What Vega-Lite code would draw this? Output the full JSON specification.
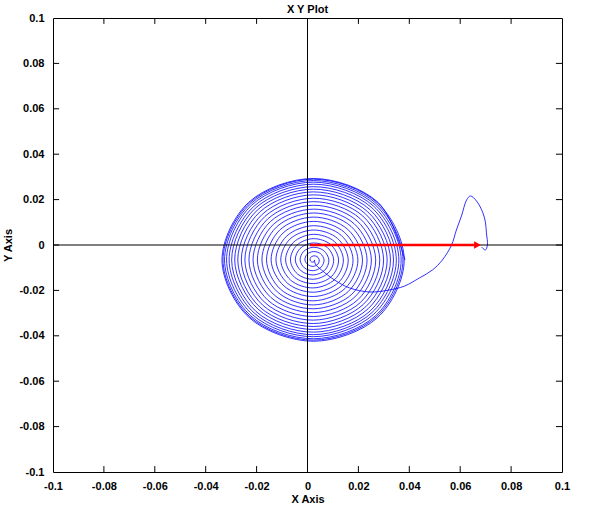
{
  "$schema": "https://vega.github.io/schema/vega-lite/v6.json",
  "width": 509,
  "height": 454,
  "autosize": "none",
  "padding": {"left": 53, "top": 18, "right": 32, "bottom": 38},
  "background": "white",
  "title": {"text": "X Y Plot", "font": "Liberation Sans", "fontSize": 11, "fontWeight": "bold", "color": "black", "offset": 4, "dy": 7},
  "config": {
    "view": {"stroke": "black", "strokeWidth": 1},
    "axis": {
      "domain": false, "grid": false, "ticks": false,
      "labelFont": "Liberation Sans", "labelFontSize": 11, "labelFontWeight": "bold", "labelColor": "black",
      "labelFlush": false, "labelOverlap": false,
      "titleFont": "Liberation Sans", "titleFontSize": 11, "titleFontWeight": "bold", "titleColor": "black"
    }
  },
  "datasets": {
    "path": [
      {"i":0,"x":0.0684,"y":-0.0009},{"i":1,"x":0.0699,"y":-0.0022},{"i":2,"x":0.0707,"y":0.0},{"i":3,"x":0.0703,"y":0.0053},
      {"i":4,"x":0.0699,"y":0.0101},{"i":5,"x":0.0688,"y":0.0145},{"i":6,"x":0.0664,"y":0.0194},{"i":7,"x":0.0640,"y":0.0216},
      {"i":8,"x":0.0625,"y":0.0198},{"i":9,"x":0.0605,"y":0.0128},{"i":10,"x":0.0585,"y":0.0066},{"i":11,"x":0.0566,"y":0.0},
      {"i":12,"x":0.0530,"y":-0.0066},{"i":13,"x":0.0491,"y":-0.0110},{"i":14,"x":0.0440,"y":-0.0145},{"i":15,"x":0.0381,"y":-0.0181},
      {"i":16,"x":0.0322,"y":-0.0198},{"i":17,"x":0.0244,"y":-0.0207},{"i":18,"x":0.0165,"y":-0.0189},{"i":19,"x":0.0106,"y":-0.0154},
      {"i":20,"x":0.0055,"y":-0.0110},{"i":21,"x":0.0031,"y":-0.0084},
      {"i":100,"x":0.0027,"y":-0.0066},{"i":101,"x":0.0028,"y":-0.0070},{"i":102,"x":0.0023,"y":-0.0075},{"i":103,"x":0.0015,"y":-0.0074},
      {"i":104,"x":0.0010,"y":-0.0066},{"i":105,"x":0.0012,"y":-0.0055},{"i":106,"x":0.0023,"y":-0.0048},{"i":107,"x":0.0038,"y":-0.0051},
      {"i":108,"x":0.0046,"y":-0.0066},{"i":109,"x":0.0041,"y":-0.0084},{"i":110,"x":0.0023,"y":-0.0094},{"i":111,"x":0.0002,"y":-0.0087},
      {"i":112,"x":-0.0010,"y":-0.0066},{"i":113,"x":-0.0002,"y":-0.0041},{"i":114,"x":0.0023,"y":-0.0029},{"i":115,"x":0.0051,"y":-0.0038},
      {"i":116,"x":0.0065,"y":-0.0066},{"i":117,"x":0.0054,"y":-0.0097},{"i":118,"x":0.0023,"y":-0.0113},{"i":119,"x":-0.0012,"y":-0.0101},
      {"i":120,"x":-0.0029,"y":-0.0066},{"i":121,"x":-0.0015,"y":-0.0028},{"i":122,"x":0.0023,"y":-0.0010},{"i":123,"x":0.0064,"y":-0.0025},
      {"i":124,"x":0.0084,"y":-0.0066},{"i":125,"x":0.0068,"y":-0.0111},{"i":126,"x":0.0023,"y":-0.0132},{"i":127,"x":-0.0025,"y":-0.0114},
      {"i":128,"x":-0.0048,"y":-0.0066},{"i":129,"x":-0.0029,"y":-0.0015},{"i":130,"x":0.0023,"y":0.0009},{"i":131,"x":0.0078,"y":-0.0011},
      {"i":132,"x":0.0103,"y":-0.0066},{"i":133,"x":0.0081,"y":-0.0124},{"i":134,"x":0.0023,"y":-0.0151},{"i":135,"x":-0.0039,"y":-0.0128},
      {"i":136,"x":-0.0067,"y":-0.0066},{"i":137,"x":-0.0042,"y":-0.0001},{"i":138,"x":0.0023,"y":0.0028},{"i":139,"x":0.0091,"y":0.0002},
      {"i":140,"x":0.0122,"y":-0.0066},{"i":141,"x":0.0095,"y":-0.0138},{"i":142,"x":0.0023,"y":-0.0170},{"i":143,"x":-0.0052,"y":-0.0141},
      {"i":144,"x":-0.0086,"y":-0.0066},{"i":145,"x":-0.0055,"y":0.0012},{"i":146,"x":0.0023,"y":0.0047},{"i":147,"x":0.0105,"y":0.0016},
      {"i":148,"x":0.0141,"y":-0.0066},{"i":149,"x":0.0108,"y":-0.0151},{"i":150,"x":0.0023,"y":-0.0189},{"i":151,"x":-0.0066,"y":-0.0155},
      {"i":152,"x":-0.0105,"y":-0.0066},{"i":153,"x":-0.0069,"y":0.0026},{"i":154,"x":0.0023,"y":0.0066},{"i":155,"x":0.0118,"y":0.0029},
      {"i":156,"x":0.0160,"y":-0.0066},{"i":157,"x":0.0122,"y":-0.0165},{"i":158,"x":0.0023,"y":-0.0208},{"i":159,"x":-0.0079,"y":-0.0168},
      {"i":160,"x":-0.0124,"y":-0.0066},{"i":161,"x":-0.0082,"y":0.0039},{"i":162,"x":0.0023,"y":0.0085},{"i":163,"x":0.0132,"y":0.0043},
      {"i":164,"x":0.0179,"y":-0.0066},{"i":165,"x":0.0135,"y":-0.0178},{"i":166,"x":0.0023,"y":-0.0227},{"i":167,"x":-0.0092,"y":-0.0181},
      {"i":168,"x":-0.0143,"y":-0.0066},{"i":169,"x":-0.0096,"y":0.0053},{"i":170,"x":0.0023,"y":0.0104},{"i":171,"x":0.0145,"y":0.0056},
      {"i":172,"x":0.0198,"y":-0.0066},{"i":173,"x":0.0148,"y":-0.0191},{"i":174,"x":0.0023,"y":-0.0246},{"i":175,"x":-0.0106,"y":-0.0195},
      {"i":176,"x":-0.0161,"y":-0.0066},{"i":177,"x":-0.0109,"y":0.0066},{"i":178,"x":0.0023,"y":0.0123},{"i":179,"x":0.0158,"y":0.0069},
      {"i":180,"x":0.0216,"y":-0.0066},{"i":181,"x":0.0161,"y":-0.0204},{"i":182,"x":0.0023,"y":-0.0264},{"i":183,"x":-0.0118,"y":-0.0207},
      {"i":184,"x":-0.0179,"y":-0.0066},{"i":185,"x":-0.0122,"y":0.0079},{"i":186,"x":0.0023,"y":0.0141},{"i":187,"x":0.0171,"y":0.0082},
      {"i":188,"x":0.0234,"y":-0.0066},{"i":189,"x":0.0174,"y":-0.0217},{"i":190,"x":0.0023,"y":-0.0281},{"i":191,"x":-0.0131,"y":-0.0220},
      {"i":192,"x":-0.0197,"y":-0.0066},{"i":193,"x":-0.0134,"y":0.0091},{"i":194,"x":0.0023,"y":0.0158},{"i":195,"x":0.0183,"y":0.0094},
      {"i":196,"x":0.0251,"y":-0.0066},{"i":197,"x":0.0186,"y":-0.0229},{"i":198,"x":0.0023,"y":-0.0298},{"i":199,"x":-0.0143,"y":-0.0232},
      {"i":200,"x":-0.0214,"y":-0.0066},{"i":201,"x":-0.0146,"y":0.0103},{"i":202,"x":0.0023,"y":0.0175},{"i":203,"x":0.0195,"y":0.0106},
      {"i":204,"x":0.0268,"y":-0.0066},{"i":205,"x":0.0198,"y":-0.0241},{"i":206,"x":0.0023,"y":-0.0315},{"i":207,"x":-0.0155,"y":-0.0244},
      {"i":208,"x":-0.0230,"y":-0.0066},{"i":209,"x":-0.0157,"y":0.0114},{"i":210,"x":0.0023,"y":0.0191},{"i":211,"x":0.0206,"y":0.0117},
      {"i":212,"x":0.0284,"y":-0.0066},{"i":213,"x":0.0209,"y":-0.0252},{"i":214,"x":0.0023,"y":-0.0331},{"i":215,"x":-0.0166,"y":-0.0255},
      {"i":216,"x":-0.0246,"y":-0.0066},{"i":217,"x":-0.0168,"y":0.0125},{"i":218,"x":0.0023,"y":0.0206},{"i":219,"x":0.0217,"y":0.0128},
      {"i":220,"x":0.0299,"y":-0.0066},{"i":221,"x":0.0219,"y":-0.0262},{"i":222,"x":0.0023,"y":-0.0346},{"i":223,"x":-0.0176,"y":-0.0265},
      {"i":224,"x":-0.0260,"y":-0.0066},{"i":225,"x":-0.0178,"y":0.0135},{"i":226,"x":0.0023,"y":0.0221},{"i":227,"x":0.0227,"y":0.0138},
      {"i":228,"x":0.0313,"y":-0.0066},{"i":229,"x":0.0229,"y":-0.0272},{"i":230,"x":0.0023,"y":-0.0359},{"i":231,"x":-0.0186,"y":-0.0275},
      {"i":232,"x":-0.0274,"y":-0.0066},{"i":233,"x":-0.0188,"y":0.0145},{"i":234,"x":0.0023,"y":0.0234},{"i":235,"x":0.0236,"y":0.0147},
      {"i":236,"x":0.0326,"y":-0.0066},{"i":237,"x":0.0238,"y":-0.0281},{"i":238,"x":0.0023,"y":-0.0372},{"i":239,"x":-0.0194,"y":-0.0283},
      {"i":240,"x":-0.0286,"y":-0.0066},{"i":241,"x":-0.0197,"y":0.0154},{"i":242,"x":0.0023,"y":0.0246},{"i":243,"x":0.0245,"y":0.0156},
      {"i":244,"x":0.0338,"y":-0.0066},{"i":245,"x":0.0247,"y":-0.0290},{"i":246,"x":0.0023,"y":-0.0384},{"i":247,"x":-0.0203,"y":-0.0292},
      {"i":248,"x":-0.0298,"y":-0.0066},{"i":249,"x":-0.0205,"y":0.0162},{"i":250,"x":0.0023,"y":0.0257},{"i":251,"x":0.0253,"y":0.0164},
      {"i":252,"x":0.0349,"y":-0.0066},{"i":253,"x":0.0254,"y":-0.0297},{"i":254,"x":0.0023,"y":-0.0395},{"i":255,"x":-0.0210,"y":-0.0299},
      {"i":256,"x":-0.0308,"y":-0.0066},{"i":257,"x":-0.0212,"y":0.0169},{"i":258,"x":0.0023,"y":0.0268},{"i":259,"x":0.0260,"y":0.0171},
      {"i":260,"x":0.0359,"y":-0.0066},{"i":261,"x":0.0261,"y":-0.0304},{"i":262,"x":0.0023,"y":-0.0404},{"i":263,"x":-0.0217,"y":-0.0306},
      {"i":264,"x":-0.0318,"y":-0.0066},{"i":265,"x":-0.0219,"y":0.0176},{"i":266,"x":0.0023,"y":0.0277},{"i":267,"x":0.0266,"y":0.0177},
      {"i":268,"x":0.0368,"y":-0.0066},{"i":269,"x":0.0268,"y":-0.0311},{"i":270,"x":0.0023,"y":-0.0413},{"i":271,"x":-0.0223,"y":-0.0312},
      {"i":272,"x":-0.0326,"y":-0.0066},{"i":273,"x":-0.0224,"y":0.0181},{"i":274,"x":0.0023,"y":0.0284},{"i":275,"x":0.0271,"y":0.0182},
      {"i":276,"x":0.0375,"y":-0.0066},{"i":277,"x":0.0272,"y":-0.0315},{"i":278,"x":0.0023,"y":-0.0419},{"i":279,"x":-0.0227,"y":-0.0316},
      {"i":280,"x":-0.0332,"y":-0.0066},{"i":281,"x":-0.0228,"y":0.0185},{"i":282,"x":0.0023,"y":0.0290},{"i":283,"x":0.0275,"y":0.0186},
      {"i":284,"x":0.0380,"y":-0.0066},{"i":285,"x":0.0276,"y":-0.0319},{"i":286,"x":0.0023,"y":-0.0424},{"i":287,"x":-0.0230,"y":-0.0319},
      {"i":288,"x":-0.0336,"y":-0.0066},{"i":289,"x":-0.0231,"y":0.0188},{"i":290,"x":0.0023,"y":0.0293},{"i":291,"x":0.0277,"y":0.0188},
      {"i":292,"x":0.0383,"y":-0.0066}
    ],
    "arrow": [{"x1": 0.001, "x2": 0.0664, "y": 0, "tip": 0.0668}],
    "origin": [{"x": 0, "y": 0}],
    "tv": [{"v":-0.08},{"v":-0.06},{"v":-0.04},{"v":-0.02},{"v":0},{"v":0.02},{"v":0.04},{"v":0.06},{"v":0.08}]
  },
  "layer": [
    {
      "data": {"name": "path"},
      "mark": {"type": "line", "color": "#0000ff", "strokeWidth": 1, "interpolate": "catmull-rom", "opacity": 0.8},
      "encoding": {
        "x": {"field": "x", "type": "quantitative",
          "scale": {"domain": [-0.1, 0.1], "nice": false, "zero": false},
          "axis": {"orient": "bottom", "title": "X Axis", "values": [-0.1,-0.08,-0.06,-0.04,-0.02,0,0.02,0.04,0.06,0.08,0.1],
            "labelExpr": "datum.value == 0 ? '0' : (datum.value < 0 ? '-' : '') + format(abs(datum.value), '~g')",
            "labelPadding": 8, "titlePadding": 2}},
        "y": {"field": "y", "type": "quantitative",
          "scale": {"domain": [-0.1, 0.1], "nice": false, "zero": false},
          "axis": {"orient": "left", "title": "Y Axis", "values": [-0.1,-0.08,-0.06,-0.04,-0.02,0,0.02,0.04,0.06,0.08,0.1],
            "labelExpr": "datum.value == 0 ? '0' : (datum.value < 0 ? '-' : '') + format(abs(datum.value), '~g')",
            "labelPadding": 9, "titleX": -40, "titleBaseline": "bottom"}},
        "order": {"field": "i", "type": "quantitative"}
      }
    },
    {
      "data": {"name": "tv"},
      "mark": {"type": "rule", "color": "black", "strokeWidth": 1},
      "encoding": {
        "x": {"field": "v", "type": "quantitative"},
        "y": {"datum": -0.1, "type": "quantitative"},
        "y2": {"datum": -0.0974}
      }
    },
    {
      "data": {"name": "tv"},
      "mark": {"type": "rule", "color": "black", "strokeWidth": 1},
      "encoding": {
        "x": {"field": "v", "type": "quantitative"},
        "y": {"datum": 0.1, "type": "quantitative"},
        "y2": {"datum": 0.0974}
      }
    },
    {
      "data": {"name": "tv"},
      "mark": {"type": "rule", "color": "black", "strokeWidth": 1},
      "encoding": {
        "y": {"field": "v", "type": "quantitative"},
        "x": {"datum": -0.1, "type": "quantitative"},
        "x2": {"datum": -0.0976}
      }
    },
    {
      "data": {"name": "tv"},
      "mark": {"type": "rule", "color": "black", "strokeWidth": 1},
      "encoding": {
        "y": {"field": "v", "type": "quantitative"},
        "x": {"datum": 0.1, "type": "quantitative"},
        "x2": {"datum": 0.0976}
      }
    },
    {
      "data": {"name": "origin"},
      "mark": {"type": "rule", "color": "black", "strokeWidth": 1},
      "encoding": {
        "x": {"field": "x", "type": "quantitative"}
      }
    },
    {
      "data": {"name": "origin"},
      "mark": {"type": "rule", "color": "black", "strokeWidth": 1},
      "encoding": {
        "y": {"field": "y", "type": "quantitative"}
      }
    },
    {
      "data": {"name": "arrow"},
      "mark": {"type": "rule", "color": "#ff0000", "strokeWidth": 2.5},
      "encoding": {
        "x": {"field": "x1", "type": "quantitative"},
        "x2": {"field": "x2"},
        "y": {"field": "y", "type": "quantitative"}
      }
    },
    {
      "data": {"name": "arrow"},
      "mark": {"type": "point", "shape": "triangle-right", "filled": true, "color": "#ff0000", "size": 60, "opacity": 1},
      "encoding": {
        "x": {"field": "tip", "type": "quantitative"},
        "y": {"field": "y", "type": "quantitative"}
      }
    }
  ]
}
